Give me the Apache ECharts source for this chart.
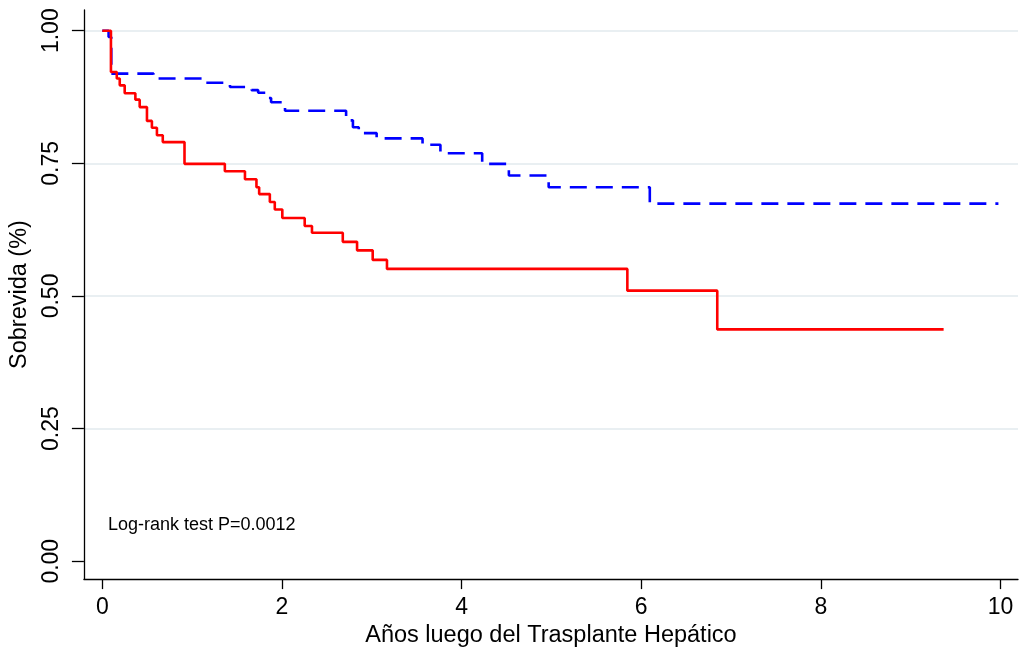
<!DOCTYPE html>
<html>
<head>
<meta charset="utf-8">
<script src="https://cdn.jsdelivr.net/npm/echarts@6/dist/echarts.min.js"></script>
<style>
html,body{margin:0;padding:0;background:#fff;}
#chart{width:1023px;height:653px;}
</style>
</head>
<body>
<div id="chart"></div>
<script>
// Kaplan-Meier survival (years after liver transplant)
var redTime = [0, 0.096, 0.161, 0.194, 0.249, 0.368, 0.416, 0.497, 0.552, 0.608, 0.673, 0.915, 1.364, 1.588, 1.716, 1.746, 1.865, 1.920, 2.004, 2.253, 2.334, 2.677, 2.836, 3.010, 3.169, 5.845, 6.846, 9.366];
var redSurv = [1.0, 0.922, 0.910, 0.897, 0.882, 0.870, 0.856, 0.830, 0.817, 0.803, 0.790, 0.749, 0.735, 0.720, 0.705, 0.692, 0.677, 0.663, 0.647, 0.632, 0.619, 0.602, 0.586, 0.568, 0.551, 0.510, 0.437, 0.437];

var blueTime = [0, 0.07, 0.10, 0.571, 1.155, 1.421, 1.661, 1.735, 1.827, 1.879, 2.034, 2.714, 2.79, 2.855, 3.054, 3.565, 3.764, 4.229, 4.526, 4.969, 6.095, 9.976];
var blueSurv = [1.0, 0.988, 0.919, 0.910, 0.902, 0.894, 0.888, 0.883, 0.873, 0.865, 0.849, 0.831, 0.818, 0.807, 0.797, 0.785, 0.769, 0.749, 0.727, 0.705, 0.674, 0.674];

var xTicks = [0, 2, 4, 6, 8, 10];
var yTicks = [0, 0.25, 0.5, 0.75, 1.0];
var yGrid = [0.25, 0.5, 0.75, 1.0];
var xTitle = 'Años luego del Trasplante Hepático';
var yTitle = 'Sobrevida (%)';
var noteText = 'Log-rank test P=0.0012';

function pairs(t, s) { return t.map(function (v, i) { return [v, s[i]]; }); }

var FONT = '"Liberation Sans", Arial, Helvetica, sans-serif';
var chart = echarts.init(document.getElementById('chart'), null, {renderer: 'canvas'});
chart.setOption({
  animation: false,
  backgroundColor: '#ffffff',
  title: {
    text: noteText,
    left: 103, top: 511,
    textStyle: {fontFamily: FONT, fontSize: 18, fontWeight: 'normal', color: '#000'}
  },
  grid: {left: 80, right: 5, top: 10, bottom: 70, containLabel: false},
  xAxis: {
    type: 'value', min: -0.205, max: 10.194,
    name: xTitle, nameLocation: 'middle', nameGap: 41,
    nameTextStyle: {fontFamily: FONT, fontSize: 23.5, color: '#000'},
    axisLine: {show: true, onZero: false, lineStyle: {color: '#000', width: 1.3}},
    axisTick: {show: true, customValues: xTicks, length: 10, lineStyle: {color: '#000', width: 1.3}},
    axisLabel: {customValues: xTicks, margin: 17, fontFamily: FONT, fontSize: 23, color: '#000'},
    splitLine: {show: false}
  },
  yAxis: {
    type: 'value', min: -0.0337, max: 1.039,
    name: yTitle, nameLocation: 'middle', nameGap: 46, nameRotate: 90,
    nameTextStyle: {fontFamily: FONT, fontSize: 23.5, color: '#000'},
    axisLine: {show: true, onZero: false, lineStyle: {color: '#000', width: 1.3}},
    axisTick: {show: true, customValues: yTicks, length: 12, lineStyle: {color: '#000', width: 1.3}},
    axisLabel: {customValues: yTicks, rotate: 90, margin: 21, fontFamily: FONT, fontSize: 23, color: '#000',
      formatter: function (v) { return v.toFixed(2); }},
    splitLine: {show: false}
  },
  series: [
    {
      type: 'line', data: [], z: 0, zlevel: 0, silent: true,
      markLine: {
        z: 0, silent: true, symbol: ['none', 'none'], label: {show: false},
        emphasis: {disabled: true},
        lineStyle: {color: '#e9eff2', width: 2, type: 'solid'},
        data: yGrid.map(function (v) { return {yAxis: v}; })
      }
    },
    {
      type: 'line', step: 'end', z: 6, showSymbol: false, symbol: 'none',
      data: pairs(blueTime, blueSurv),
      lineStyle: {color: '#0000ff', width: 2.6, type: [17, 9]}
    },
    {
      type: 'line', step: 'end', z: 7, showSymbol: false, symbol: 'none',
      data: pairs(redTime, redSurv),
      lineStyle: {color: '#ff0000', width: 2.6, type: 'solid'}
    }
  ]
});
</script>
</body>
</html>
